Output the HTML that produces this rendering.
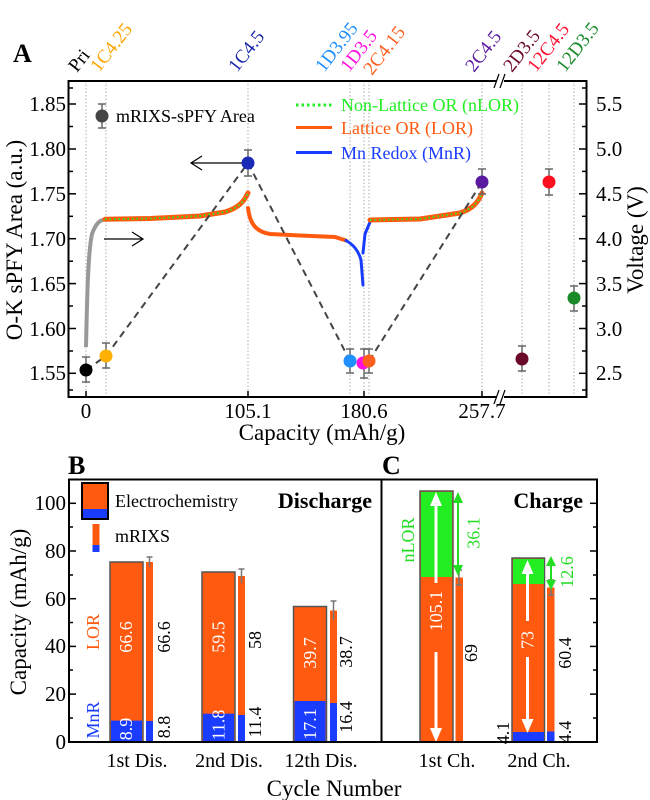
<!DOCTYPE html>
<html><head><meta charset="utf-8"><style>
html,body{margin:0;padding:0;background:#fff;}
svg{display:block;font-family:"Liberation Serif",serif;}
</style></head><body>
<svg width="650" height="800" viewBox="0 0 650 800" xmlns="http://www.w3.org/2000/svg">
<!-- ===== Panel A ===== -->
<text x="13" y="62" font-size="26" font-weight="bold">A</text>
<g stroke="#999" stroke-width="0.8" stroke-dasharray="1.5,2">
<line x1="86" y1="81" x2="86" y2="397"/><line x1="106" y1="81" x2="106" y2="397"/>
<line x1="248" y1="81" x2="248" y2="397"/><line x1="350" y1="81" x2="350" y2="397"/>
<line x1="364" y1="81" x2="364" y2="397"/><line x1="369" y1="81" x2="369" y2="397"/>
<line x1="482" y1="81" x2="482" y2="397"/><line x1="522" y1="81" x2="522" y2="397"/>
<line x1="549" y1="81" x2="549" y2="397"/><line x1="574" y1="81" x2="574" y2="397"/>
</g>
<rect x="68.5" y="81" width="518" height="316" fill="none" stroke="#000" stroke-width="2"/>
<rect x="497" y="78" width="7" height="6" fill="#fff"/><rect x="497" y="394" width="7" height="6" fill="#fff"/>
<g stroke="#000" stroke-width="1.2">
<line x1="494" y1="88" x2="499" y2="74"/><line x1="500" y1="88" x2="505" y2="74"/>
<line x1="494" y1="404" x2="499" y2="390"/><line x1="500" y1="404" x2="505" y2="390"/>
</g>
<g stroke="#000" stroke-width="1.5">
<line x1="69" y1="104" x2="76" y2="104"/><line x1="69" y1="149" x2="76" y2="149"/><line x1="69" y1="193.8" x2="76" y2="193.8"/><line x1="69" y1="238.7" x2="76" y2="238.7"/><line x1="69" y1="283.6" x2="76" y2="283.6"/><line x1="69" y1="328.5" x2="76" y2="328.5"/><line x1="69" y1="373.3" x2="76" y2="373.3"/>
<line x1="69" y1="126.5" x2="73" y2="126.5"/><line x1="69" y1="171.4" x2="73" y2="171.4"/><line x1="69" y1="216.3" x2="73" y2="216.3"/><line x1="69" y1="261.2" x2="73" y2="261.2"/><line x1="69" y1="306" x2="73" y2="306"/><line x1="69" y1="351" x2="73" y2="351"/><line x1="69" y1="88" x2="73" y2="88"/><line x1="69" y1="390" x2="73" y2="390"/>
<line x1="586" y1="104" x2="579" y2="104"/><line x1="586" y1="149" x2="579" y2="149"/><line x1="586" y1="193.8" x2="579" y2="193.8"/><line x1="586" y1="238.7" x2="579" y2="238.7"/><line x1="586" y1="283.6" x2="579" y2="283.6"/><line x1="586" y1="328.5" x2="579" y2="328.5"/><line x1="586" y1="373.3" x2="579" y2="373.3"/>
<line x1="586" y1="126.5" x2="582" y2="126.5"/><line x1="586" y1="171.4" x2="582" y2="171.4"/><line x1="586" y1="216.3" x2="582" y2="216.3"/><line x1="586" y1="261.2" x2="582" y2="261.2"/><line x1="586" y1="306" x2="582" y2="306"/><line x1="586" y1="351" x2="582" y2="351"/><line x1="586" y1="88" x2="582" y2="88"/><line x1="586" y1="390" x2="582" y2="390"/>
<line x1="86" y1="397" x2="86" y2="391"/><line x1="248" y1="397" x2="248" y2="391"/><line x1="364" y1="397" x2="364" y2="391"/><line x1="482" y1="397" x2="482" y2="391"/>
</g>
<g font-size="21" text-anchor="end">
<text x="66" y="111">1.85</text><text x="66" y="156">1.80</text><text x="66" y="201">1.75</text><text x="66" y="246">1.70</text><text x="66" y="291">1.65</text><text x="66" y="336">1.60</text><text x="66" y="380">1.55</text>
</g>
<g font-size="21">
<text x="596" y="111">5.5</text><text x="596" y="156">5.0</text><text x="596" y="201">4.5</text><text x="596" y="246">4.0</text><text x="596" y="291">3.5</text><text x="596" y="336">3.0</text><text x="596" y="380">2.5</text>
</g>
<g font-size="21" text-anchor="middle">
<text x="86" y="418">0</text><text x="248" y="418">105.1</text><text x="364" y="418">180.6</text><text x="482" y="418">257.7</text>
<text x="322" y="440" font-size="23">Capacity (mAh/g)</text>
</g>
<text transform="translate(22,240) rotate(-90)" font-size="23" text-anchor="middle">O-K sPFY Area (a.u.)</text>
<text transform="translate(636,240) rotate(-90)" font-size="23" text-anchor="middle" dy="7">Voltage (V)</text>
<g font-size="19">
<text transform="translate(77,73) rotate(-52)">Pri</text>
<text transform="translate(99,73) rotate(-52)" fill="#ffa500">1C4.25</text>
<text transform="translate(237,73) rotate(-52)" fill="#1a2aa8">1C4.5</text>
<text transform="translate(324,73) rotate(-52)" fill="#2090ff">1D3.95</text>
<text transform="translate(349,73) rotate(-52)" fill="#ff10e0">1D3.5</text>
<text transform="translate(372,76) rotate(-52)" fill="#ff6020">2C4.15</text>
<text transform="translate(474,73) rotate(-52)" fill="#5a1aa0">2C4.5</text>
<text transform="translate(512,73) rotate(-52)" fill="#6b0a28">2D3.5</text>
<text transform="translate(536,73) rotate(-52)" fill="#ff1030">12C4.5</text>
<text transform="translate(565,73) rotate(-52)" fill="#1a8a2a">12D3.5</text>
</g>
<path d="M86,347 C87,300 88,252 92,234 C96,223 100,220 105,219.5" fill="none" stroke="#999" stroke-width="4"/>
<g fill="none" stroke-linecap="round">
<path d="M105,219.3 L150,218.5 L200,216 L225,212 C238,208 244,202 248,193" stroke="#ff5a10" stroke-width="5"/>
<path d="M105,219.3 L150,218.5 L200,216 L225,212 C238,208 244,202 248,193" stroke="#22ee22" stroke-width="2" stroke-dasharray="1.5,3" stroke-linecap="butt"/>
<path d="M248,208 C250,225 257,232 270,234 L300,235.5 L335,237 L346,240.5" stroke="#ff5a10" stroke-width="4"/>
<path d="M346,240.5 C352,244 358,249 361,260 L363,285" stroke="#1a3cff" stroke-width="3"/>
<path d="M363,253 L365,234 L370,222" stroke="#1a3cff" stroke-width="3"/>
<path d="M370,220 L420,219 L460,213 C472,209 478,203 482,193" stroke="#ff5a10" stroke-width="5"/>
<path d="M370,220 L420,219 L460,213 C472,209 478,203 482,193" stroke="#22ee22" stroke-width="2" stroke-dasharray="1.5,3" stroke-linecap="butt"/>
</g>
<path d="M86,370 L106,356 L248,163 L350,361 M369,361 L482,182" fill="none" stroke="#444" stroke-width="2" stroke-dasharray="7,5"/>
<g stroke="#000" stroke-width="1.2" fill="none">
<path d="M247,163 L191,163 M202,156 L191,163 L202,170"/>
<path d="M104,239 L143,239 M132,232 L143,239 L132,246"/>
</g>
<g stroke="#666" stroke-width="1.5">
<path d="M86,357 V382 M82,357 H90 M82,382 H90"/>
<path d="M106,343 V368 M102,343 H110 M102,368 H110"/>
<path d="M248,150 V176 M244,150 H252 M244,176 H252"/>
<path d="M350,349 V373 M346,349 H354 M346,373 H354"/>
<path d="M364,349 V378 M360,349 H368 M360,378 H368"/>
<path d="M369,349 V373 M365,349 H373 M365,373 H373"/>
<path d="M482,169 V194 M478,169 H486 M478,194 H486"/>
<path d="M522,346 V371 M518,346 H526 M518,371 H526"/>
<path d="M549,169 V195 M545,169 H553 M545,195 H553"/>
<path d="M574,286 V311 M570,286 H578 M570,311 H578"/>
<path d="M102,104 V128 M98,104 H106 M98,128 H106"/>
</g>
<circle cx="86" cy="370" r="6.5" fill="#000"/>
<circle cx="106" cy="356" r="6.5" fill="#ffb000"/>
<circle cx="248" cy="163" r="6.5" fill="#1a2ab8"/>
<circle cx="350" cy="361" r="6.5" fill="#2090ff"/>
<circle cx="363" cy="363" r="6.5" fill="#ff10e0"/>
<circle cx="369" cy="361" r="6.5" fill="#ff6020"/>
<circle cx="482" cy="182" r="6.5" fill="#5a1aa0"/>
<circle cx="522" cy="359" r="6.5" fill="#6b0a28"/>
<circle cx="549" cy="182" r="6.5" fill="#ff1020"/>
<circle cx="574" cy="298" r="6.5" fill="#1a8a2a"/>
<circle cx="102" cy="116" r="6.5" fill="#444"/>
<text x="116" y="122" font-size="18">mRIXS-sPFY Area</text>
<line x1="296" y1="105" x2="332" y2="105" stroke="#22ee22" stroke-width="3" stroke-dasharray="2.5,3"/>
<line x1="296" y1="127.5" x2="332" y2="127.5" stroke="#ff5a10" stroke-width="3"/>
<line x1="296" y1="152.5" x2="332" y2="152.5" stroke="#1a3cff" stroke-width="3"/>
<g font-size="18">
<text x="341" y="111" fill="#22ee22">Non-Lattice OR (nLOR)</text>
<text x="341" y="134" fill="#ff5a10">Lattice OR (LOR)</text>
<text x="341" y="159" fill="#1a3cff">Mn Redox (MnR)</text>
</g>

<!-- ===== Panel B/C ===== -->
<text x="68" y="474" font-size="26" font-weight="bold">B</text>
<text x="382" y="474" font-size="26" font-weight="bold">C</text>
<g stroke="#555" stroke-width="1.5">
<rect x="110" y="562" width="33" height="180" fill="#ff5a10"/>
<rect x="202" y="572" width="33" height="170" fill="#ff5a10"/>
<rect x="293.5" y="606.5" width="33" height="135.5" fill="#ff5a10"/>
<rect x="420" y="491" width="33" height="251" fill="#ff5a10"/>
<rect x="512" y="558" width="32.5" height="184" fill="#ff5a10"/>
</g>
<g stroke="none">
<rect x="111" y="720.6" width="31" height="21" fill="#1a3cff"/>
<rect x="203" y="713.7" width="31" height="28" fill="#1a3cff"/>
<rect x="294.5" y="701" width="31" height="41" fill="#1a3cff"/>
<rect x="421" y="492" width="31" height="85" fill="#22ee22"/>
<rect x="513" y="559" width="31" height="25" fill="#22ee22"/>
<rect x="513" y="732" width="31" height="10" fill="#1a3cff"/>
<rect x="146" y="562" width="7" height="180" fill="#ff5a10"/><rect x="146" y="721" width="7" height="21" fill="#1a3cff"/>
<rect x="238" y="576" width="7" height="166" fill="#ff5a10"/><rect x="238" y="715" width="7" height="27" fill="#1a3cff"/>
<rect x="330" y="610.5" width="7" height="131.5" fill="#ff5a10"/><rect x="330" y="703" width="7" height="39" fill="#1a3cff"/>
<rect x="455.5" y="577.5" width="7.5" height="164.5" fill="#ff5a10"/>
<rect x="547" y="587.5" width="7.5" height="154.5" fill="#ff5a10"/><rect x="547" y="731.5" width="7.5" height="10.5" fill="#1a3cff"/>
</g>
<g stroke="#777" stroke-width="1.5">
<path d="M149.5,557 V567 M146.5,557 H152.5"/>
<path d="M241.5,569 V583 M238.5,569 H244.5"/>
<path d="M333.5,601 V620 M330.5,601 H336.5"/>
<path d="M459,570 V585 M456,570 H462 M456,585 H462"/>
<path d="M551,580 V595 M548,580 H554 M548,595 H554"/>
</g>
<g stroke="#fff" stroke-width="3" fill="#fff">
<line x1="436" y1="583" x2="436" y2="504"/><polygon points="430,506 442,506 436,492" stroke="none"/>
<line x1="436" y1="652" x2="436" y2="730"/><polygon points="430,728 442,728 436,742" stroke="none"/>
<line x1="527.5" y1="621" x2="527.5" y2="572"/><polygon points="521.5,574 533.5,574 527.5,560" stroke="none"/>
<line x1="527.5" y1="657" x2="527.5" y2="721"/><polygon points="521.5,719 533.5,719 527.5,733" stroke="none"/>
</g>
<g stroke="#22dd22" stroke-width="2" fill="#22dd22">
<line x1="458" y1="500" x2="458" y2="568"/><polygon points="453,503 463,503 458,492" stroke="none"/><polygon points="453,565 463,565 458,576" stroke="none"/>
<line x1="551" y1="563" x2="551" y2="583"/><polygon points="546,566 556,566 551,556" stroke="none"/><polygon points="546,580 556,580 551,590" stroke="none"/>
</g>
<rect x="69" y="479.5" width="528" height="262.5" fill="none" stroke="#000" stroke-width="2"/>
<line x1="381.5" y1="479.5" x2="381.5" y2="742" stroke="#000" stroke-width="2"/>
<g stroke="#000" stroke-width="1.5">
<line x1="69" y1="503.3" x2="76" y2="503.3"/><line x1="69" y1="551" x2="76" y2="551"/><line x1="69" y1="598.7" x2="76" y2="598.7"/><line x1="69" y1="646.4" x2="76" y2="646.4"/><line x1="69" y1="694.1" x2="76" y2="694.1"/>
<line x1="69" y1="527" x2="73" y2="527"/><line x1="69" y1="575" x2="73" y2="575"/><line x1="69" y1="622.5" x2="73" y2="622.5"/><line x1="69" y1="670" x2="73" y2="670"/><line x1="69" y1="718" x2="73" y2="718"/>
<line x1="597" y1="503.3" x2="590" y2="503.3"/><line x1="597" y1="551" x2="590" y2="551"/><line x1="597" y1="598.7" x2="590" y2="598.7"/><line x1="597" y1="646.4" x2="590" y2="646.4"/><line x1="597" y1="694.1" x2="590" y2="694.1"/>
<line x1="597" y1="527" x2="593" y2="527"/><line x1="597" y1="575" x2="593" y2="575"/><line x1="597" y1="622.5" x2="593" y2="622.5"/><line x1="597" y1="670" x2="593" y2="670"/><line x1="597" y1="718" x2="593" y2="718"/>
</g>
<g font-size="21" text-anchor="end">
<text x="66" y="510">100</text><text x="66" y="558">80</text><text x="66" y="606">60</text><text x="66" y="653">40</text><text x="66" y="701">20</text><text x="66" y="749">0</text>
</g>
<text transform="translate(26,612) rotate(-90)" font-size="23" text-anchor="middle">Capacity (mAh/g)</text>
<g font-size="20" text-anchor="middle">
<text x="137" y="767">1st Dis.</text><text x="229" y="767">2nd Dis.</text><text x="321" y="767">12th Dis.</text>
<text x="447" y="767">1st Ch.</text><text x="539" y="767">2nd Ch.</text>
<text x="334" y="796" font-size="23">Cycle Number</text>
</g>
<rect x="82" y="483" width="26" height="36" fill="#ff5a10" stroke="#000" stroke-width="2"/>
<rect x="83" y="509" width="24" height="9" fill="#1a3cff"/>
<rect x="92.5" y="524" width="7" height="28" fill="#ff5a10"/><rect x="92.5" y="545" width="7" height="7" fill="#1a3cff"/>
<text x="115" y="507" font-size="18">Electrochemistry</text>
<text x="115" y="542" font-size="18">mRIXS</text>
<text x="372" y="508" font-size="22" font-weight="bold" text-anchor="end">Discharge</text>
<text x="583" y="508" font-size="22" font-weight="bold" text-anchor="end">Charge</text>
<g font-size="18" text-anchor="middle">
<text transform="translate(93,632) rotate(-90)" dy="6" fill="#ff5a10">LOR</text>
<text transform="translate(93,720) rotate(-90)" dy="6" fill="#1a3cff">MnR</text>
<text transform="translate(408,540) rotate(-90)" dy="6" fill="#22dd22">nLOR</text>
<text transform="translate(126,637) rotate(-90)" dy="6" fill="#fff">66.6</text>
<text transform="translate(126,729) rotate(-90)" dy="6" fill="#fff">8.9</text>
<text transform="translate(164,637) rotate(-90)" dy="6">66.6</text>
<text transform="translate(164,727) rotate(-90)" dy="6">8.8</text>
<text transform="translate(218.5,637) rotate(-90)" dy="6" fill="#fff">59.5</text>
<text transform="translate(218.5,725) rotate(-90)" dy="6" fill="#fff">11.8</text>
<text transform="translate(255,640) rotate(-90)" dy="6">58</text>
<text transform="translate(255,722) rotate(-90)" dy="6">11.4</text>
<text transform="translate(310,653) rotate(-90)" dy="6" fill="#fff">39.7</text>
<text transform="translate(310,724) rotate(-90)" dy="6" fill="#fff">17.1</text>
<text transform="translate(346,652) rotate(-90)" dy="6">38.7</text>
<text transform="translate(346,717) rotate(-90)" dy="6">16.4</text>
<text transform="translate(436,611) rotate(-90)" dy="6" fill="#fff">105.1</text>
<text transform="translate(471,653) rotate(-90)" dy="6">69</text>
<text transform="translate(473.5,533) rotate(-90)" dy="6" fill="#22dd22">36.1</text>
<text transform="translate(527.5,640) rotate(-90)" dy="6" fill="#fff">73</text>
<text transform="translate(565,653) rotate(-90)" dy="6">60.4</text>
<text transform="translate(503,733) rotate(-90)" dy="6">4.1</text>
<text transform="translate(565,732) rotate(-90)" dy="6">4.4</text>
<text transform="translate(567,572) rotate(-90)" dy="6" fill="#22dd22">12.6</text>
</g>
</svg>
</body></html>
